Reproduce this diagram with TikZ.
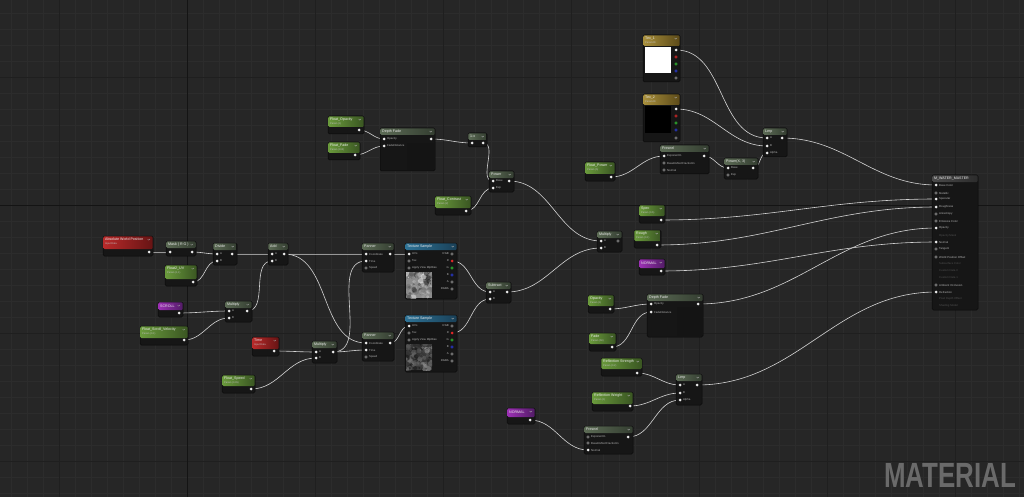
\documentclass[tikz,border=0pt]{standalone}
\usepackage{fontspec}
\usepackage{graphicx}
\setmainfont{Liberation Sans}
\newfontfamily\wmfont{Liberation Sans}
\definecolor{bgc}{HTML}{262626}
\definecolor{gminc}{HTML}{2C2C2C}
\definecolor{gmajc}{HTML}{1F1F1F}
\definecolor{axisc}{HTML}{141414}
\definecolor{bodyc}{HTML}{161616}
\definecolor{bordc}{HTML}{0A0A0A}
\definecolor{opL}{HTML}{5C6B55}
\definecolor{opR}{HTML}{343E31}
\definecolor{parL}{HTML}{6A9A3C}
\definecolor{parR}{HTML}{3A5622}
\definecolor{redL}{HTML}{B82A2A}
\definecolor{redR}{HTML}{661414}
\definecolor{purL}{HTML}{9C30B4}
\definecolor{purR}{HTML}{521C66}
\definecolor{texL}{HTML}{2E7396}
\definecolor{texR}{HTML}{1A4058}
\definecolor{goldL}{HTML}{A88F3C}
\definecolor{goldR}{HTML}{5C4A18}
\definecolor{matL}{HTML}{4A4A4A}
\definecolor{matR}{HTML}{2C2C2C}
\definecolor{wirec}{HTML}{D4D4D4}
\definecolor{lblc}{HTML}{B4B4B4}
\definecolor{dimc}{HTML}{4E4E4E}
\definecolor{wmc}{HTML}{6A6A6A}
\definecolor{pinR}{HTML}{E02828}
\definecolor{pinG}{HTML}{30C030}
\definecolor{pinB}{HTML}{2A3AD8}
\pgfdeclarelayer{bgl}
\pgfdeclarelayer{wirel}
\pgfsetlayers{bgl,wirel,main}
\newcount\autoc
\newcommand\uebodynode[5]{\node[uebody,anchor=north west,minimum width={(#4)-(#2)},minimum height={(#5)-(#3)}] (#1) at (#2,#3) {};}
\newcommand\tbar[4]{\shade[left color=#3,right color=#4,rounded corners=1.2pt] ([xshift=0.3pt,yshift=-0.3pt]#1.north west) rectangle ([xshift=-0.3pt,yshift=-#2pt]#1.north east);}
\newcommand\chev[1]{\draw[white!65!black,line width=0.35pt] ([xshift=-5.5pt,yshift=-3pt]#1.north east) -- ++(1.2pt,-1.2pt) -- ++(1.2pt,1.2pt);}
\newcommand\ttl[2]{\node[ttls,anchor=west] (#1-t) at ([xshift=2pt,yshift=-3.6pt]#1.north west) {#2};}
\newcommand\opnode[6]{\uebodynode{#1}{#2}{#3}{#4}{#5}\tbar{#1}{7}{opL}{opR}\ttl{#1}{#6}\chev{#1}}
\newcommand\parnode[9]{\uebodynode{#1}{#2}{#3}{#4}{#5}%
  \pgfmathsetmacro\tbh{#5-#3-7}\pgfmathsetmacro\tbhh{(#5-#3-7)/2}%
  \tbar{#1}{\tbh}{#6}{#7}\def\tmpsub{#9}%
  \ifx\tmpsub\empty
    \node[ttls,anchor=west] (#1-t) at ([xshift=2pt,yshift=-\tbhh pt]#1.north west) {#8};
  \else
    \node[ttls,anchor=west] (#1-t) at ([xshift=2pt,yshift=-3.6pt]#1.north west) {#8};
    \node[subs,anchor=west] (#1-s) at ([xshift=2pt,yshift=-7.6pt]#1.north west) {#9};
  \fi\chev{#1}}
\newcommand\pin[3]{\coordinate (#1) at (#2,#3);\fill[pinc] (#1) circle[radius=1.5pt];}
\newcommand\cpin[4]{\coordinate (#1) at (#2,#3);\fill[#4] (#1) circle[radius=1.5pt];}
\newcommand\hpin[3][white!55!black]{\draw[#1,line width=0.45pt] (#2,#3) circle[radius=1.2pt];}
\newcommand\li[3]{\global\advance\autoc by 1\relax\node[plbl,anchor=west] (lb\the\autoc) at (#1,#2) {#3};}
\newcommand\lo[3]{\global\advance\autoc by 1\relax\node[plbl,anchor=east] (lb\the\autoc) at (#1,#2) {#3};}
\newcommand\ld[3]{\global\advance\autoc by 1\relax\node[dlbl,anchor=west] (lb\the\autoc) at (#1,#2) {#3};}
% cloudy thumbnail: x, y, base grey, min grey, range
\newcommand\cloud[5]{\begin{scope}
  \clip (#1,#2) rectangle ++(26,26);
  \fill[white!#3!black] (#1,#2) rectangle ++(26,26);
  \foreach \k in {1,...,110}{%
    \pgfmathsetmacro\cx{#1+26*rnd}\pgfmathsetmacro\cy{#2+26*rnd}%
    \pgfmathsetmacro\cr{0.6+2.6*rnd}\pgfmathtruncatemacro\g{#4+#5*rnd}%
    \fill[white!\g!black,opacity=0.55] (\cx,\cy) circle[radius=\cr pt];}
  \end{scope}}
\begin{document}
\begin{tikzpicture}[x=1pt,y=-1pt,
 uebody/.style={draw=bordc,fill=bodyc,rounded corners=1.5pt,inner sep=0pt,outer sep=0pt,line width=0.5pt},
 ttls/.style={text=white!92!black,font=\fontsize{3.6}{4}\selectfont,inner sep=0pt},
 subs/.style={text=white!75!black,font=\fontsize{2.5}{3}\selectfont,inner sep=0pt},
 plbl/.style={text=lblc,font=\fontsize{2.8}{3}\selectfont,inner sep=0pt},
 dlbl/.style={text=dimc,font=\fontsize{2.8}{3}\selectfont,inner sep=0pt},
 wire/.style={draw=wirec,line width=0.6pt,out=0,in=180},
 pinc/.style={fill=white!92!black}]
\useasboundingbox (0,0) rectangle (1024,497);
\begin{pgfonlayer}{bgl}
\fill[bgc] (0,0) rectangle (1024,497);
\foreach \x in {11,27,...,1023} \draw[gminc,line width=0.4pt] (\x,0) -- (\x,497);
\foreach \y in {13,29,...,497} \draw[gminc,line width=0.4pt] (0,\y) -- (1024,\y);
\foreach \x in {59,315,443,571,699,827,955} \draw[gmajc,line width=0.6pt] (\x,0) -- (\x,497);
\foreach \y in {77,333,461} \draw[gmajc,line width=0.6pt] (0,\y) -- (1024,\y);
\draw[axisc,line width=0.9pt] (187,0) -- (187,497);
\draw[axisc,line width=0.9pt] (0,205) -- (1024,205);
\end{pgfonlayer}

% ---------- left group ----------
\parnode{awp}{103}{236}{153}{256}{redL}{redR}{Absolute World Position}{Input Data}
\pin{awp-o}{149}{252}
\opnode{mask}{166}{241}{196}{256}{Mask ( R G )}
\pin{mask-i}{170}{252}\pin{mask-o}{192}{252}
\opnode{div}{213}{243}{237}{265}{Divide}
\pin{div-a}{217}{254}\li{220}{254}{A}\pin{div-b}{217}{261}\li{220}{261}{B}\pin{div-o}{232}{254}
\parnode{uv}{165}{265}{197}{286}{parL}{parR}{Float2\_UV}{Param (1,1)}
\pin{uv-o}{193}{282}
\opnode{add}{268}{243}{288}{265}{Add}
\pin{add-a}{272}{254}\li{275}{254}{A}\pin{add-b}{272}{261}\li{275}{261}{B}\pin{add-o}{284}{254}
\parnode{scroll}{158}{302}{183}{317}{purL}{purR}{SCROLL}{}
\pin{scroll-o}{179}{313}
\opnode{mull}{225}{301}{252}{322}{Multiply}
\pin{mull-a}{229}{311}\li{232}{311}{A}\pin{mull-b}{229}{318}\li{232}{318}{B}\pin{mull-o}{247}{311}
\parnode{fsv}{140}{326}{188}{345}{parL}{parR}{Float\_Scroll\_Velocity}{Param (0.1)}
\pin{fsv-o}{184}{340}
\parnode{time}{252}{337}{279}{356}{redL}{redR}{Time}{Input Data}
\pin{time-o}{274}{351}
\opnode{mulm}{312}{341}{337}{363}{Multiply}
\pin{mulm-a}{316}{352}\li{319}{352}{A}\pin{mulm-b}{316}{358}\li{319}{358}{B}\pin{mulm-o}{333}{352}
\parnode{fspd}{222}{375}{255}{393}{parL}{parR}{Float\_Speed}{Param (0.05)}
\pin{fspd-o}{251}{389}

% ---------- panners ----------
\opnode{pan1}{362}{243}{394}{272}{Panner}
\pin{pan1-c}{366}{254}\li{369}{254}{Coordinate}\pin{pan1-t}{366}{261}\li{369}{261}{Time}\hpin{366}{268}\li{369}{268}{Speed}\pin{pan1-o}{390}{254}
\opnode{pan2}{362}{332}{394}{361}{Panner}
\pin{pan2-c}{366}{343}\li{369}{343}{Coordinate}\pin{pan2-t}{366}{350}\li{369}{350}{Time}\hpin{366}{357}\li{369}{357}{Speed}\pin{pan2-o}{390}{343}

% ---------- texture samples ----------
\pgfmathsetseed{11}
\uebodynode{ts1}{405}{243}{457}{299}\tbar{ts1}{7}{texL}{texR}\ttl{ts1}{Texture Sample}\chev{ts1}
\pin{ts1-uv}{409}{254}\li{412}{254}{UVs}\hpin{409}{261}\li{412}{261}{Tex}\hpin{409}{268}\li{412}{268}{Apply View MipBias}
\hpin{452}{254}\lo{449}{254}{RGB}\cpin{ts1-r}{452}{261}{pinR}\lo{449}{261}{R}\hpin[pinG]{452}{268}\lo{449}{268}{G}\hpin[pinB]{452}{275}\lo{449}{275}{B}\hpin{452}{282}\lo{449}{282}{A}\hpin{452}{289}\lo{449}{289}{RGBA}
\cloud{406}{272}{55}{10}{85}
\uebodynode{ts2}{405}{315}{457}{372}\tbar{ts2}{7}{texL}{texR}\ttl{ts2}{Texture Sample}\chev{ts2}
\pin{ts2-uv}{409}{326}\li{412}{326}{UVs}\hpin{409}{333}\li{412}{333}{Tex}\hpin{409}{340}\li{412}{340}{Apply View MipBias}
\hpin{452}{326}\lo{449}{326}{RGB}\cpin{ts2-r}{452}{333}{pinR}\lo{449}{333}{R}\hpin[pinG]{452}{340}\lo{449}{340}{G}\hpin[pinB]{452}{347}\lo{449}{347}{B}\hpin{452}{354}\lo{449}{354}{A}\hpin{452}{361}\lo{449}{361}{RGBA}
\cloud{406}{344}{22}{5}{60}
\opnode{sub}{486}{282}{511}{303}{Subtract}
\pin{sub-a}{490}{292}\li{493}{292}{A}\pin{sub-b}{490}{299}\li{493}{299}{B}\pin{sub-o}{507}{292}

% ---------- top middle ----------
\parnode{fop}{328}{116}{364}{134}{parL}{parR}{Float\_Opacity}{Param (1)}
\pin{fop-o}{359}{130}
\parnode{ffade}{328}{142}{360}{160}{parL}{parR}{Float\_Fade}{Param (100)}
\pin{ffade-o}{355}{155}
\opnode{df1}{380}{128}{435}{171}{Depth Fade}
\fill[black!92] (407,143) rectangle (434,170);
\pin{df1-op}{384}{139}\li{387}{139}{Opacity}\pin{df1-fd}{384}{146}\li{387}{146}{FadeDistance}\pin{df1-o}{431}{139}
\opnode{onem}{468}{133}{487}{147}{1-x}
\pin{onem-i}{472}{143}\pin{onem-o}{483}{143}
\opnode{pow}{489}{171}{514}{192}{Power}
\pin{pow-b}{493}{181}\li{496}{181}{Base}\pin{pow-e}{493}{188}\li{496}{188}{Exp}\pin{pow-o}{509}{181}
\parnode{fcon}{435}{196}{471}{215}{parL}{parR}{Float\_Contrast}{Param (2)}
\pin{fcon-o}{466}{211}
\opnode{mulr}{597}{231}{622}{252}{Multiply}
\pin{mulr-a}{601}{241}\li{604}{241}{A}\pin{mulr-b}{601}{248}\li{604}{248}{B}\hpin{618}{241}

% ---------- top right ----------
\uebodynode{tex1}{643}{35}{680}{82}\tbar{tex1}{11}{goldL}{goldR}\ttl{tex1}{Tex\_1}\node[subs,anchor=west] (tex1-s) at ([xshift=2pt,yshift=-7.6pt]tex1.north west) {Param2D};\chev{tex1}
\fill[white] (645,47) rectangle (671,73);
\pin{tex1-o}{676}{50}\hpin[pinR]{676}{57}\hpin[pinG]{676}{64}\hpin[pinB]{676}{71}\hpin{676}{78}
\uebodynode{tex2}{643}{94}{680}{142}\tbar{tex2}{11}{goldL}{goldR}\ttl{tex2}{Tex\_2}\node[subs,anchor=west] (tex2-s) at ([xshift=2pt,yshift=-7.6pt]tex2.north west) {Param2D};\chev{tex2}
\fill[black] (645,106) rectangle (671,133);
\pin{tex2-o}{676}{109}\hpin[pinR]{676}{116}\hpin[pinG]{676}{123}\hpin[pinB]{676}{130}\hpin{676}{138}
\parnode{fpow}{585}{162}{615}{181}{parL}{parR}{Float\_Power}{Param (5)}
\pin{fpow-o}{611}{177}
\opnode{fres1}{660}{145}{709}{174}{Fresnel}
\pin{fres1-e}{664}{156}\li{667}{156}{ExponentIn}\hpin{664}{163}\li{667}{163}{BaseReflectFractionIn}\hpin{664}{170}\li{667}{170}{Normal}\pin{fres1-o}{704}{156}
\opnode{powx}{724}{158}{758}{179}{Power(X, 3)}
\pin{powx-b}{728}{168}\li{731}{168}{Base}\hpin{728}{175}\li{731}{175}{Exp}\pin{powx-o}{753}{168}
\opnode{lerp1}{763}{128}{787}{157}{Lerp}
\pin{lerp1-a}{767}{138}\li{770}{138}{A}\pin{lerp1-b}{767}{146}\li{770}{146}{B}\pin{lerp1-al}{767}{153}\li{770}{153}{Alpha}\pin{lerp1-o}{782}{138}

% ---------- right column ----------
\parnode{spec}{639}{205}{665}{223}{parL}{parR}{Spec}{Param (0.5)}
\pin{spec-o}{661}{220}
\parnode{rough}{634}{230}{661}{248}{parL}{parR}{Rough}{Param (0.1)}
\pin{rough-o}{657}{245}
\parnode{norm1}{639}{259}{665}{275}{purL}{purR}{NORMAL}{}
\pin{norm1-o}{661}{271}

% ---------- bottom right ----------
\parnode{opac}{588}{295}{614}{313}{parL}{parR}{Opacity}{Param (1)}
\pin{opac-o}{610}{309}
\parnode{fade}{589}{333}{616}{351}{parL}{parR}{Fade}{Param (50)}
\pin{fade-o}{612}{347}
\opnode{df2}{647}{294}{703}{337}{Depth Fade}
\fill[black!92] (677,307) rectangle (702,336);
\pin{df2-op}{651}{304}\li{654}{304}{Opacity}\pin{df2-fd}{651}{312}\li{654}{312}{FadeDistance}\pin{df2-o}{698}{304}
\parnode{rstr}{601}{358}{642}{376}{parL}{parR}{Reflection Strength}{Param (0.2)}
\pin{rstr-o}{637}{373}
\opnode{lerp2}{676}{374}{702}{405}{Lerp}
\pin{lerp2-a}{680}{385}\li{683}{385}{A}\pin{lerp2-b}{680}{393}\li{683}{393}{B}\pin{lerp2-al}{680}{400}\li{683}{400}{Alpha}\pin{lerp2-o}{697}{385}
\parnode{rwgt}{592}{392}{633}{411}{parL}{parR}{Reflection Weight}{Param (1)}
\pin{rwgt-o}{630}{406}
\parnode{norm2}{507}{408}{535}{424}{purL}{purR}{NORMAL}{}
\pin{norm2-o}{530}{420}
\opnode{fres2}{584}{426}{633}{454}{Fresnel}
\hpin{588}{437}\li{591}{437}{ExponentIn}\hpin{588}{443}\li{591}{443}{BaseReflectFractionIn}\pin{fres2-n}{588}{450}\li{591}{450}{Normal}\pin{fres2-o}{628}{437}

% ---------- material ----------
\uebodynode{mat}{932}{175}{978}{310}\tbar{mat}{7}{matL}{matR}\ttl{mat}{M\_WATER\_MASTER}
\pin{mat-bc}{936}{185}\li{939}{185}{Base Color}
\hpin{936}{193}\li{939}{193}{Metallic}
\pin{mat-sp}{936}{199}\li{939}{199}{Specular}
\pin{mat-ro}{936}{207}\li{939}{207}{Roughness}
\hpin{936}{214}\li{939}{214}{Anisotropy}
\hpin{936}{221}\li{939}{221}{Emissive Color}
\pin{mat-op}{936}{228}\li{939}{228}{Opacity}
\ld{939}{236}{Opacity Mask}
\pin{mat-no}{936}{242}\li{939}{242}{Normal}
\hpin{936}{249}\li{939}{249}{Tangent}
\hpin{936}{257}\li{939}{257}{World Position Offset}
\ld{939}{263}{Subsurface Color}
\ld{939}{271}{Custom Data 0}
\ld{939}{278}{Custom Data 1}
\hpin{936}{285}\li{939}{285}{Ambient Occlusion}
\pin{mat-rf}{936}{292}\li{939}{292}{Refraction}
\ld{939}{299}{Pixel Depth Offset}
\ld{939}{306}{Shading Model}

% ---------- watermark ----------
\node[text=wmc,font=\wmfont\bfseries\fontsize{35}{35}\selectfont,inner sep=0pt] (wm) at (950,475.5) {\scalebox{0.74}[1]{MATERIAL}};

% ---------- wires ----------
\begin{pgfonlayer}{wirel}
\draw[wire] (awp-o) to (mask-i);
\draw[wire] (mask-o) to (div-a);
\draw[wire] (uv-o) to (div-b);
\draw[wire] (div-o) to (add-a);
\draw[wire] (mull-o) to (add-b);
\draw[wire] (scroll-o) to (mull-a);
\draw[wire] (fsv-o) to (mull-b);
\draw[wire] (add-o) to (pan1-c);
\draw[wire] (add-o) to (pan2-c);
\draw[wire] (time-o) to (mulm-a);
\draw[wire] (fspd-o) to (mulm-b);
\draw[wire] (mulm-o) to (pan1-t);
\draw[wire] (mulm-o) to (pan2-t);
\draw[wire] (pan1-o) to (ts1-uv);
\draw[wire] (pan2-o) to (ts2-uv);
\draw[wire] (ts1-r) to (sub-a);
\draw[wire] (ts2-r) to (sub-b);
\draw[wire] (sub-o) to (mulr-b);
\draw[wire] (pow-o) to (mulr-a);
\draw[wire] (fop-o) to (df1-op);
\draw[wire] (ffade-o) to (df1-fd);
\draw[wire] (df1-o) to (onem-i);
\draw[wire] (onem-o) to (pow-b);
\draw[wire] (fcon-o) to (pow-e);
\draw[wire] (tex1-o) to (lerp1-a);
\draw[wire] (tex2-o) to (lerp1-b);
\draw[wire] (fpow-o) to (fres1-e);
\draw[wire] (fres1-o) to (powx-b);
\draw[wire] (powx-o) to (lerp1-al);
\draw[wire] (lerp1-o) to (mat-bc);
\draw[wire] (spec-o) to (mat-sp);
\draw[wire] (rough-o) to (mat-ro);
\draw[wire] (norm1-o) to (mat-no);
\draw[wire] (df2-o) to (mat-op);
\draw[wire] (lerp2-o) to (mat-rf);
\draw[wire] (opac-o) to (df2-op);
\draw[wire] (fade-o) to (df2-fd);
\draw[wire] (rstr-o) to (lerp2-a);
\draw[wire] (rwgt-o) to (lerp2-b);
\draw[wire] (norm2-o) to (fres2-n);
\draw[wire] (fres2-o) to (lerp2-al);
\end{pgfonlayer}
\end{tikzpicture}
\end{document}
